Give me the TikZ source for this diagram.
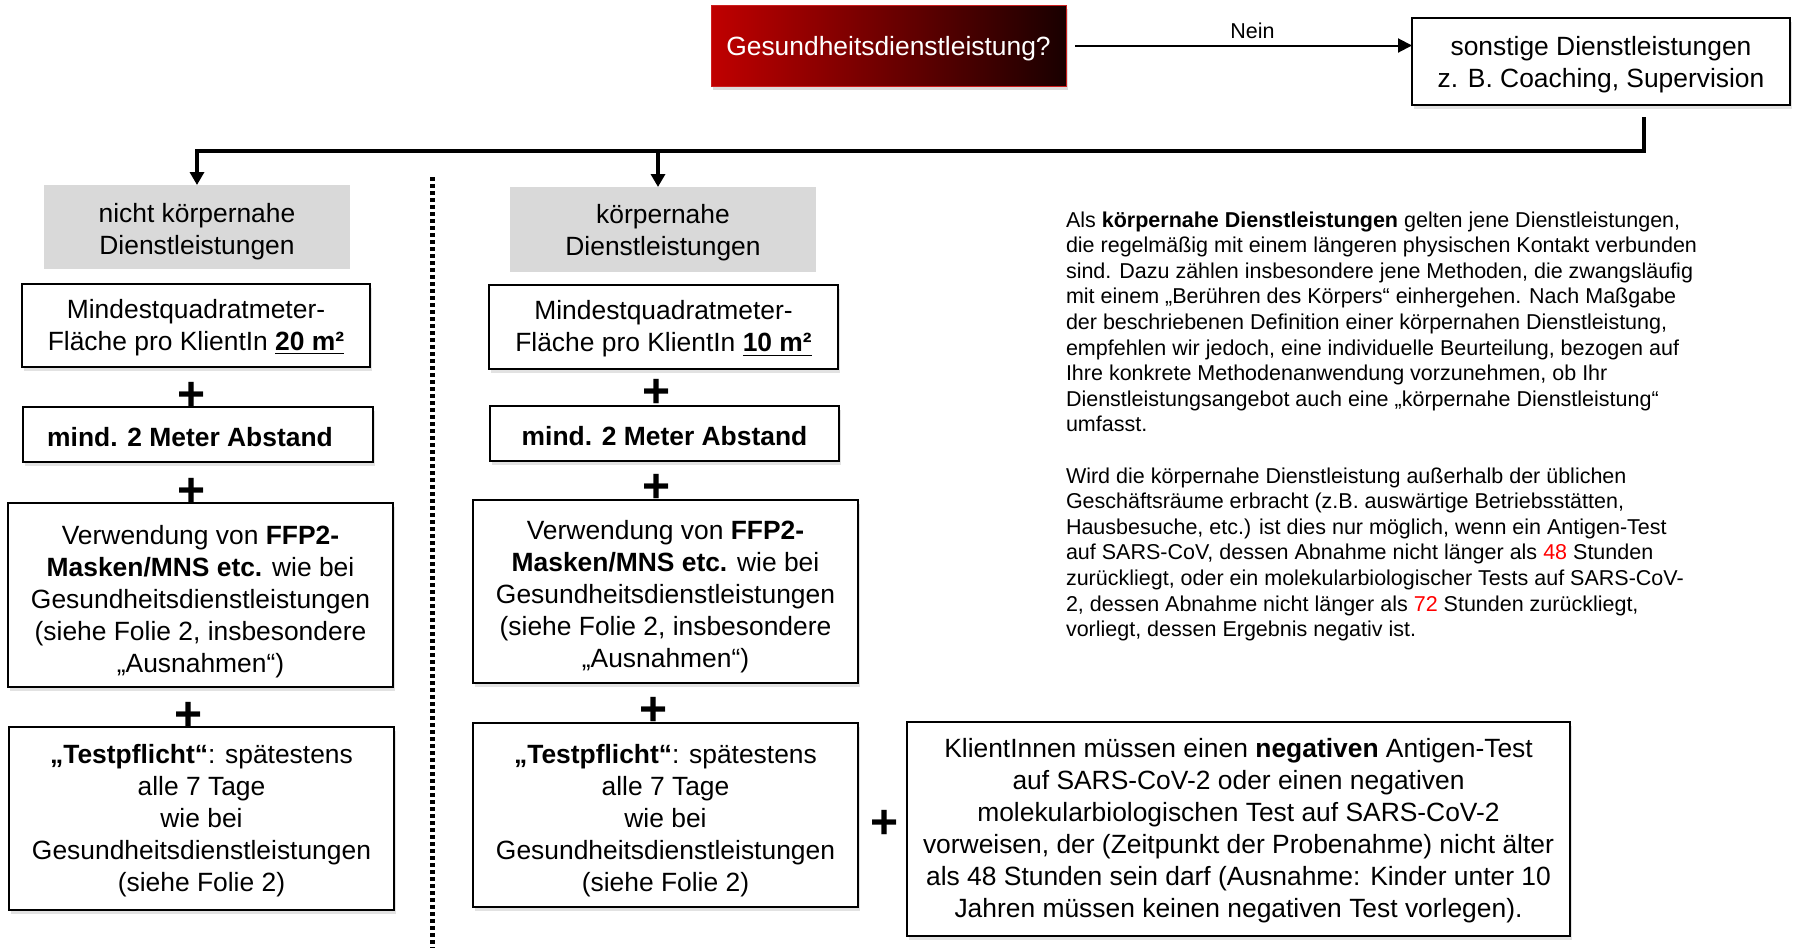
\documentclass[tikz,border=0pt]{standalone}
\usepackage{fontspec}
\setmainfont{Liberation Sans}
\usetikzlibrary{arrows.meta,shadows}
\definecolor{myred}{RGB}{192,0,0}
\definecolor{mymid}{RGB}{135,0,0}
\definecolor{mydark}{RGB}{25,0,0}
\definecolor{grayfill}{RGB}{217,217,217}
\definecolor{txtred}{RGB}{255,0,0}
\definecolor{redborder}{RGB}{205,30,30}
\newcommand{\mystrut}[1]{\rule{0pt}{\dimexpr 9.5pt+#1pt\relax}}
\begin{document}
\begin{tikzpicture}[x=0.5pt,y=-0.5pt,
  every node/.style={font=\fontsize{13.2}{16}\selectfont, align=center, inner sep=0pt, outer sep=0pt},
  box/.style={draw=black, line width=0.9pt, fill=white,
    drop shadow={shadow xshift=1.2pt, shadow yshift=-2.2pt, opacity=0.25, fill=black!45}},
  graybox/.style={fill=grayfill},
  plussign/.style={font=\fontsize{24}{24}\bfseries\selectfont},
  conn/.style={line width=2.2pt, -{Triangle[width=7pt,length=6.5pt]}},
  thinconn/.style={line width=1pt, -{Triangle[width=7pt,length=7pt]}},
  para/.style={font=\fontsize{10.75}{12.8}\selectfont, align=left, anchor=north west}
]
\useasboundingbox (0,0) rectangle (1793,948);

% top row
\node[left color=myred, middle color=mymid, right color=mydark, draw=redborder, line width=0.5pt,
  drop shadow={shadow xshift=1.2pt, shadow yshift=-2.2pt, opacity=0.3, fill=black!45},
  minimum width=177.5pt, minimum height=40.5pt, text=white] (red) at (888.5,45.5) {\mystrut{3.5}Gesundheitsdienstleistung?};
\node[box, minimum width=189pt, minimum height=43.5pt] (son) at (1601,61.5)
  {\mystrut{3.4}sonstige Dienstleistungen\\z. B. Coaching, Supervision};
\draw[thinconn] ([xshift=4.5pt]red.east) -- (red.east -| son.west)
  node[midway, above=3.3pt, xshift=4.5pt, font=\fontsize{10.75}{12.8}\selectfont] (nein) {Nein};

% category boxes
\node[graybox, minimum width=153pt, minimum height=42pt] (g1) at (197,227) {\mystrut{4.5}nicht körpernahe\\Dienstleistungen};
\node[graybox, minimum width=153pt, minimum height=42.5pt] (g2) at (663,229.5) {\mystrut{3.5}körpernahe\\Dienstleistungen};

% connectors
\coordinate (j0) at (1644,117);
\coordinate (j1) at (1644,151);
\draw[conn] (j0) -- (j1) -| (g1.north);
\draw[conn] ([xshift=-2.5pt]g2.north |- j1) -- ([xshift=-2.5pt]g2.north);

% dotted separator
\coordinate (d0) at (432,177);
\coordinate (d1) at (432,948);
\draw[line width=2.5pt, dash pattern=on 2pt off 1.5pt] (d0) -- (d1);

% left column
\node[box, minimum width=174pt, minimum height=41.5pt] (l1) at (196,325.5)
  {\mystrut{2}Mindestquadratmeter-\\Fläche pro KlientIn \underline{\textbf{20 m²}}};
\node[plussign] (lp1) at (192,396.5) {+};
\node[box, minimum width=175pt, minimum height=27.5pt] (l2) at (198,434.5)
  {\mystrut{2.6}\hspace*{-8pt}\textbf{mind. 2 Meter Abstand}};
\node[plussign] (lp2) at (192,492.5) {+};
\node[box, minimum width=192.5pt, minimum height=92pt] (l3) at (200.5,595)
  {\mystrut{7}Verwendung von \textbf{FFP2-}\\\textbf{Masken/MNS etc.} wie bei\\Gesundheitsdienstleistungen\\(siehe Folie 2, insbesondere\\„Ausnahmen“)};
\node[plussign] (lp3) at (189,716.5) {+};
\node[box, minimum width=192.5pt, minimum height=91.5pt] (l4) at (201.5,818.5)
  {\mystrut{2}\textbf{„Testpflicht“}: spätestens\\alle 7 Tage\\wie bei\\Gesundheitsdienstleistungen\\(siehe Folie 2)};

% middle column
\node[box, minimum width=174.5pt, minimum height=42pt] (m1) at (663.5,327)
  {\mystrut{2.2}Mindestquadratmeter-\\Fläche pro KlientIn \underline{\textbf{10 m²}}};
\node[plussign] (mp1) at (657,393.5) {+};
\node[box, minimum width=174.5pt, minimum height=27.5pt] (m2) at (664.5,433.5)
  {\mystrut{3}\textbf{mind. 2 Meter Abstand}};
\node[plussign] (mp2) at (657,488.5) {+};
\node[box, minimum width=192.5pt, minimum height=91.5pt] (m3) at (665.5,591.5)
  {\mystrut{5.7}Verwendung von \textbf{FFP2-}\\\textbf{Masken/MNS etc.} wie bei\\Gesundheitsdienstleistungen\\(siehe Folie 2, insbesondere\\„Ausnahmen“)};
\node[plussign] (mp3) at (654,711.5) {+};
\node[box, minimum width=192.5pt, minimum height=92pt] (m4) at (665.5,815)
  {\mystrut{5.5}\textbf{„Testpflicht“}: spätestens\\alle 7 Tage\\wie bei\\Gesundheitsdienstleistungen\\(siehe Folie 2)};

% right
\node[plussign] (rp) at (885,824.5) {+};
\node[box, minimum width=331.5pt, minimum height=107pt] (r) at (1238.5,829)
  {\mystrut{2}KlientInnen müssen einen \textbf{negativen} Antigen-Test\\auf SARS-CoV-2 oder einen negativen\\molekularbiologischen Test auf SARS-CoV-2\\vorweisen, der (Zeitpunkt der Probenahme) nicht älter\\als 48 Stunden sein darf (Ausnahme: Kinder unter 10\\Jahren müssen keinen negativen Test vorlegen).};

% explanatory text
\node[para] (txt) at (1066,211.5)
  {Als \textbf{körpernahe Dienstleistungen} gelten jene Dienstleistungen,\\
   die regelmäßig mit einem längeren physischen Kontakt verbunden\\
   sind. Dazu zählen insbesondere jene Methoden, die zwangsläufig\\
   mit einem „Berühren des Körpers“ einhergehen. Nach Maßgabe\\
   der beschriebenen Definition einer körpernahen Dienstleistung,\\
   empfehlen wir jedoch, eine individuelle Beurteilung, bezogen auf\\
   Ihre konkrete Methodenanwendung vorzunehmen, ob Ihr\\
   Dienstleistungsangebot auch eine „körpernahe Dienstleistung“\\
   umfasst.\\[12.8pt]
   Wird die körpernahe Dienstleistung außerhalb der üblichen\\
   Geschäftsräume erbracht (z.B. auswärtige Betriebsstätten,\\
   Hausbesuche, etc.) ist dies nur möglich, wenn ein Antigen-Test\\
   auf SARS-CoV, dessen Abnahme nicht länger als \textcolor{txtred}{48} Stunden\\
   zurückliegt, oder ein molekularbiologischer Tests auf SARS-CoV-\\
   2, dessen Abnahme nicht länger als \textcolor{txtred}{72} Stunden zurückliegt,\\
   vorliegt, dessen Ergebnis negativ ist.};
\end{tikzpicture}
\end{document}
